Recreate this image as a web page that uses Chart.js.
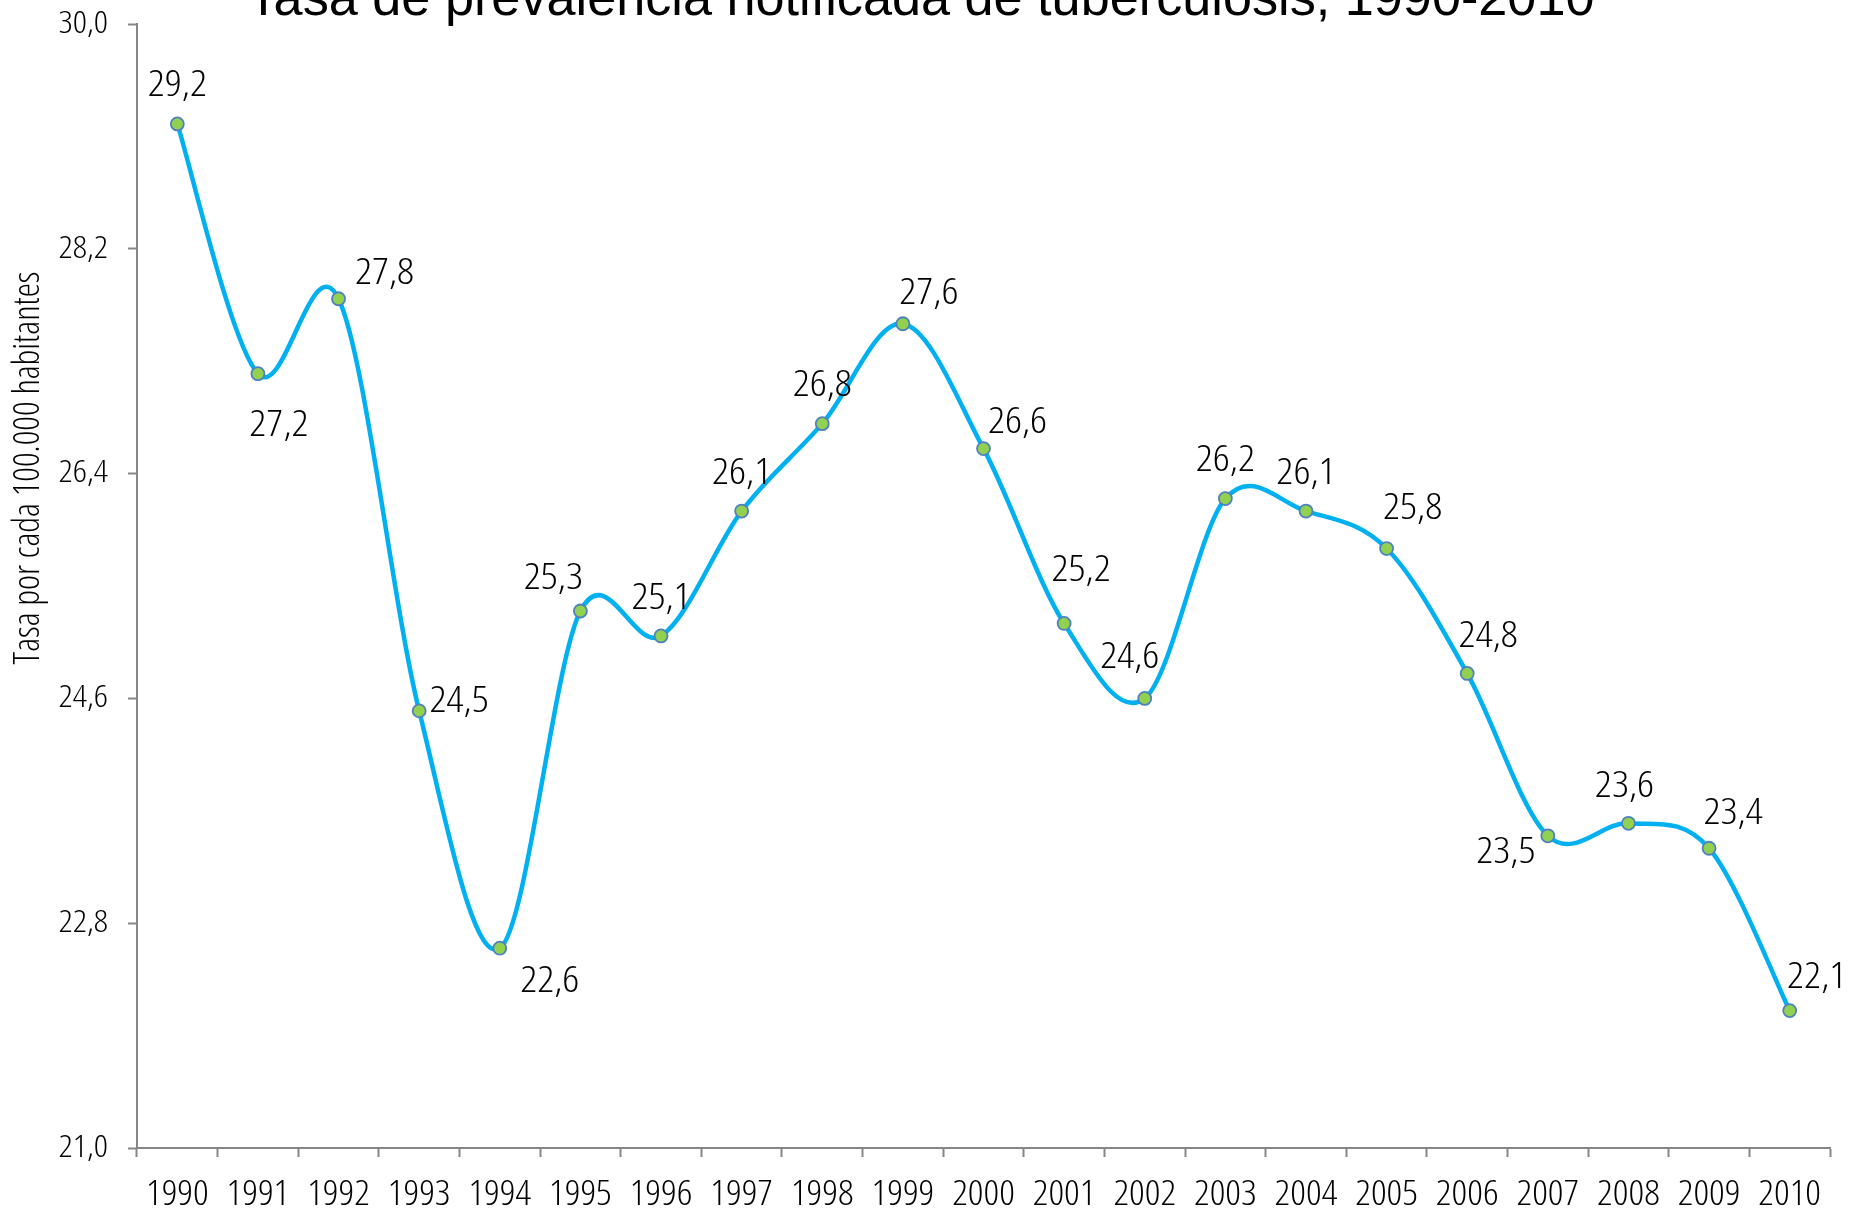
<!DOCTYPE html>
<html>
<head>
<meta charset="utf-8">
<script src="https://cdn.jsdelivr.net/npm/chart.js@4.4.1/dist/chart.umd.min.js"></script>
<style>
html,body{margin:0;padding:0;background:#fff;overflow:hidden;}
#wrap{position:relative;width:1850px;height:1214px;}
</style>
</head>
<body>
<div id="wrap"><canvas id="c" width="1850" height="1214"></canvas></div>
<script>
const years = ['1990','1991','1992','1993','1994','1995','1996','1997','1998','1999','2000','2001','2002','2003','2004','2005','2006','2007','2008','2009','2010'];
const rates = [29.2, 27.2, 27.8, 24.5, 22.6, 25.3, 25.1, 26.1, 26.8, 27.6, 26.6, 25.2, 24.6, 26.2, 26.1, 25.8, 24.8, 23.5, 23.6, 23.4, 22.1];
const yTicks = [21.0, 22.8, 24.6, 26.4, 28.2, 30.0];
const titleText = 'Tasa de prevalencia notificada de tuberculosis, 1990-2010';
const yTitleText = 'Tasa por cada 100.000 habitantes';

// label placement offsets (style only)
const labelOffsets = [[0,-38],[21,52],[46,-25],[40,-9],[50,33],[-27,-33],[0,-38],[0,-38],[0,-38],[26,-30],[34,-26],[17,-53],[-15,-41],[0,-38],[0,-38],[26,-40],[21,-37],[-42,17],[-4,-37],[24,-35],[27,-33]];

const FAM = "'Open Sans', 'DejaVu Sans', sans-serif";
const FONT_PREFIX = 'normal 300 condensed ';
const fmt = v => Number(v).toFixed(1).replace('.', ',');

// Excel-like smoothing: uniform Catmull-Rom control points
const excelSmooth = {
  id: 'excelSmooth',
  beforeDatasetsDraw(chart) {
    const meta = chart.getDatasetMeta(0);
    const line = meta.dataset;
    line.updateControlPoints(chart.chartArea, 'x');
    const pts = meta.data;
    const n = pts.length;
    for (let i = 0; i < n; i++) {
      const p = pts[i];
      const prev = pts[Math.max(0, i - 1)];
      const next = pts[Math.min(n - 1, i + 1)];
      const dx = (next.x - prev.x) / 6, dy = (next.y - prev.y) / 6;
      p.cp1x = p.x - dx; p.cp1y = p.y - dy;
      p.cp2x = p.x + dx; p.cp2y = p.y + dy;
    }
    line._path = undefined;
  }
};

function fitFont(ctx, text, prefix, family, targetW) {
  ctx.font = prefix + ' 100px ' + family;
  const w = ctx.measureText(text).width;
  return prefix + ' ' + (100 * targetW / w).toFixed(2) + 'px ' + family;
}

function wideText(ctx, text, x, y, align, xs) {
  ctx.save();
  ctx.translate(x, y);
  ctx.scale(xs, 1);
  ctx.textAlign = align;
  ctx.fillText(text, 0, 0);
  ctx.restore();
}

const extras = {
  id: 'extras',
  afterDraw(chart) {
    const ctx = chart.ctx;
    const xs = chart.scales.x, ys = chart.scales.y;
    ctx.save();
    ctx.fillStyle = '#000';
    ctx.textBaseline = 'middle';

    // y tick labels
    ctx.font = FONT_PREFIX + '31px ' + FAM;
    yTicks.forEach(v => wideText(ctx, fmt(v), xs.left - 29, ys.getPixelForValue(v), 'right', 1.13));

    // x tick labels
    ctx.font = FONT_PREFIX + '35px ' + FAM;
    years.forEach((lab, i) => wideText(ctx, lab, xs.getPixelForTick(i), ys.bottom + 47, 'center', 1.1));

    // data labels
    const meta = chart.getDatasetMeta(0);
    ctx.font = FONT_PREFIX + '37px ' + FAM;
    meta.data.forEach((pt, i) => {
      const o = labelOffsets[i];
      wideText(ctx, fmt(rates[i]), pt.x + o[0], pt.y + o[1], 'center', 1.13);
    });

    // title
    ctx.font = fitFont(ctx, titleText, 'normal 400', "'Liberation Sans', Arial, sans-serif", 1347);
    ctx.textAlign = 'center';
    ctx.textBaseline = 'alphabetic';
    ctx.fillText(titleText, 921, 15);

    // y axis title
    ctx.font = fitFont(ctx, yTitleText, FONT_PREFIX.trim(), FAM, 393);
    ctx.translate(29, 468);
    ctx.rotate(-Math.PI/2);
    ctx.textBaseline = 'middle';
    ctx.fillText(yTitleText, 0, 0);
    ctx.restore();
  }
};

new Chart(document.getElementById('c'), {
  type: 'line',
  data: {
    labels: years,
    datasets: [{
      data: rates,
      borderColor: '#00B0F0',
      borderWidth: 4.5,
      tension: 0.4,
      pointRadius: 6.5,
      pointBackgroundColor: '#92D050',
      pointBorderColor: '#4F81BD',
      pointBorderWidth: 1.8,
      clip: false
    }]
  },
  options: {
    responsive: false,
    animation: false,
    devicePixelRatio: 1,
    layout: { padding: { top: 24, right: 20, left: 0, bottom: 0 } },
    plugins: { legend: { display: false }, tooltip: { enabled: false }, title: { display: false } },
    scales: {
      x: {
        type: 'category',
        offset: true,
        grid: { display: true, drawOnChartArea: false, offset: true, tickLength: 9, tickColor: '#868686', tickWidth: 2 },
        border: { color: '#868686', width: 2 },
        ticks: { display: false, autoSkip: false },
        afterFit(s) { s.height = 66; }
      },
      y: {
        min: 21, max: 30,
        afterBuildTicks(s) { s.ticks = yTicks.map(v => ({ value: v })); },
        grid: { display: true, drawOnChartArea: false, tickLength: 9, tickColor: '#868686', tickWidth: 2 },
        border: { color: '#868686', width: 2 },
        ticks: { display: false },
        afterFit(s) { s.width = 137; s.paddingTop = 0; s.paddingBottom = 0; }
      }
    }
  },
  plugins: [excelSmooth, extras]
});
</script>
</body>
</html>
